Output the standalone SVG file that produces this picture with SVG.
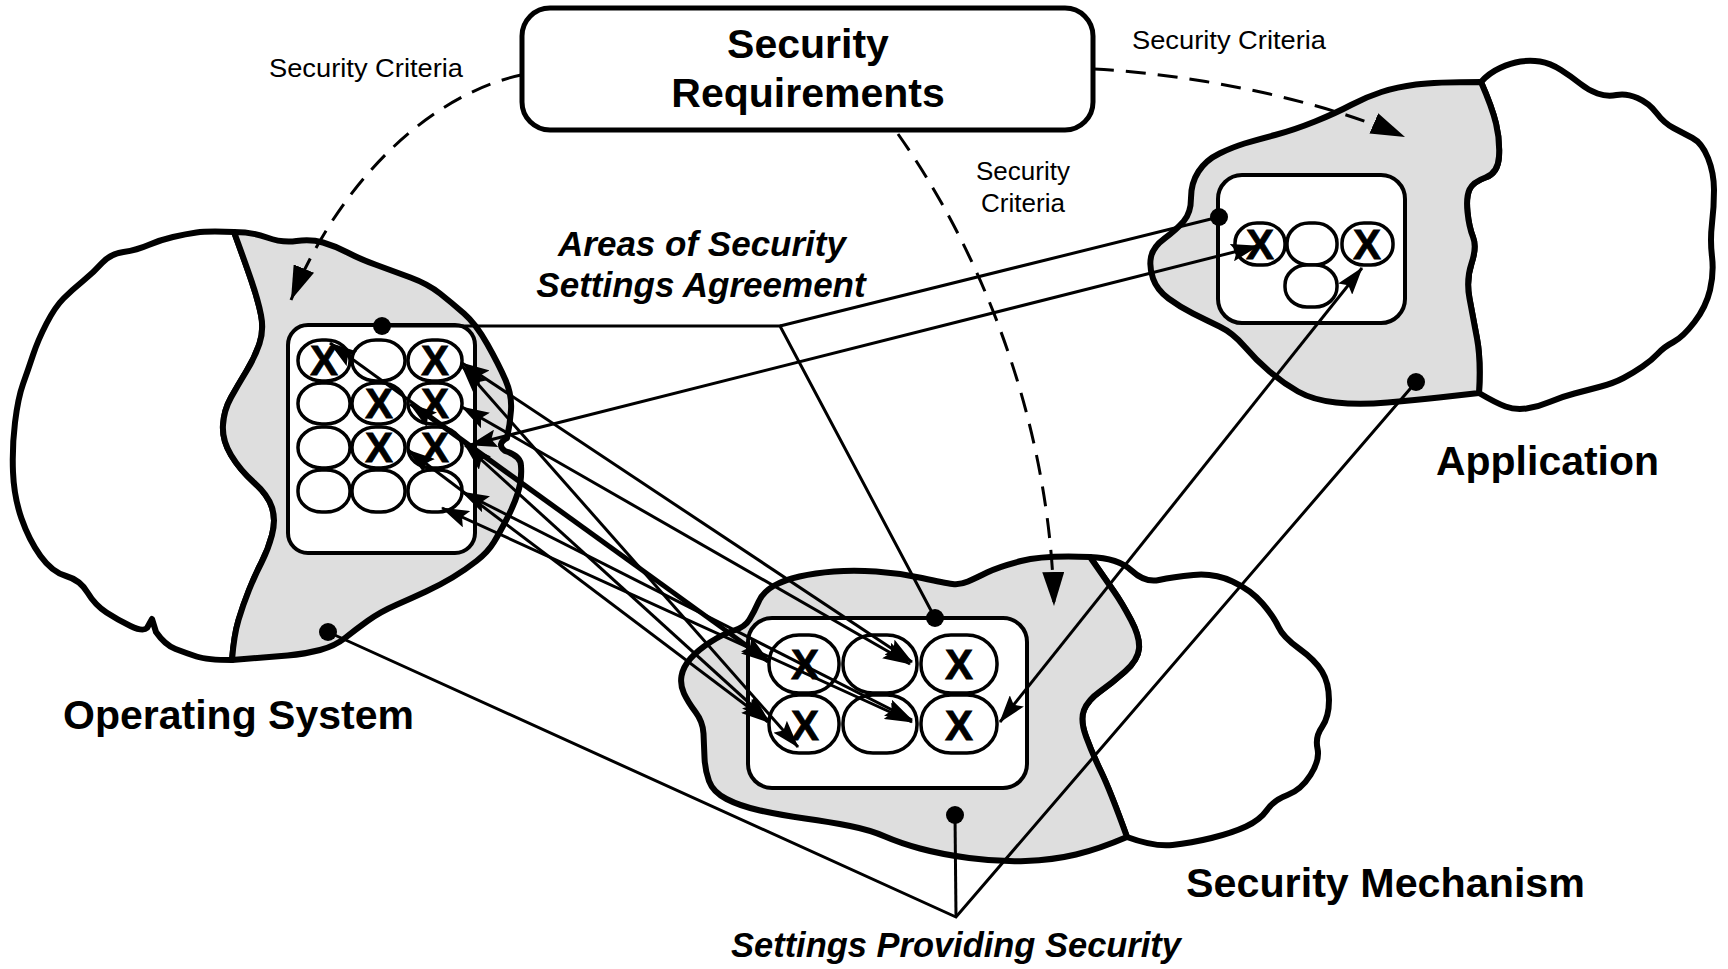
<svg xmlns="http://www.w3.org/2000/svg" width="1728" height="969" viewBox="0 0 1728 969">
<style>
.cl{stroke:#000;stroke-width:6;stroke-linejoin:round}
.gr{fill:#dedede}
.wh{fill:#fff}
.box{fill:#fff;stroke:#000;stroke-width:4}
.pill{fill:#fff;stroke:#000;stroke-width:3.5}
.x{font-family:"Liberation Sans",Arial,sans-serif;font-weight:bold;font-size:42px;text-anchor:middle;stroke:#000;stroke-width:0.8}
.ln{stroke:#000;stroke-width:3;fill:none}
.ar{stroke:#000;stroke-width:3;fill:none;marker-start:url(#ah);marker-end:url(#ah)}
.ds{stroke:#000;stroke-width:3;fill:none;stroke-dasharray:20 12;marker-end:url(#dh)}
.big{font-family:"Liberation Sans",Arial,sans-serif;font-weight:bold;font-size:41px}
.bi{font-family:"Liberation Sans",Arial,sans-serif;font-weight:bold;font-style:italic;font-size:35px}
.sm{font-family:"Liberation Sans",Arial,sans-serif;font-size:26px}
</style>
<defs>
<marker id="ah" viewBox="0 0 28 18" refX="27" refY="9" markerWidth="28" markerHeight="18" markerUnits="userSpaceOnUse" orient="auto-start-reverse"><path d="M0,0 L28,9 L0,18 L5,9 z" fill="#000"/></marker>
<marker id="dh" viewBox="0 0 34 22" refX="34" refY="11" markerWidth="34" markerHeight="22" markerUnits="userSpaceOnUse" orient="auto"><path d="M0,0 L34,11 L0,22 z" fill="#000"/></marker>
</defs>

<g id="os-cloud">
<path class="cl wh" d="M234 232 Q207 231 196.5 232.5 Q186 234 173 237 Q160 240 148.5 245 Q137 250 123.5 252 Q110 254 102 263 Q94 272 83 281 Q72 290 63.5 298.5 Q55 307 46.5 323.5 Q38 340 33 355 Q28 370 23 384 Q18 398 15 422.5 Q12 447 13 472 Q14 497 21.5 518.5 Q29 540 40.5 556 Q52 572 66 576 Q80 580 87.5 592.5 Q95 605 106.5 612.5 Q118 620 130.5 626 Q143 632 147 628 L152 619 L156 632 Q165 645 175.5 649 Q186 653 196.5 656.5 Q207 660 232 660 Q234 635 238.5 620 Q243 605 249 590 Q255 575 261.5 562.5 Q268 550 272 535 Q276 520 272 507.5 Q268 495 254 482.5 Q240 470 231 455 Q222 440 223 425 Q224 410 231 397.5 Q238 385 246.5 371 Q255 357 259.5 343.5 Q264 330 261 315 Q258 300 251.5 281 Q245 262 234 232 Z"/>
<path class="cl gr" d="M234 232 Q252 232 267 237.5 Q282 243 296.5 241 Q311 239 323 242.5 Q335 246 347.5 252.5 Q360 259 376.5 265 Q393 271 410.5 277.5 Q428 284 440 293.5 Q452 303 464 313.5 Q476 324 487.5 344.5 Q499 365 505.5 380 Q512 395 511 410 Q510 425 507 438 Q496 444 505 451 Q521 456 521 466 Q522 480 518 492.5 Q514 505 507 518.5 Q500 532 494 542 Q488 552 476.5 561 Q465 570 452.5 577.5 Q440 585 426 591.5 Q412 598 396 605 Q380 612 367.5 621 Q355 630 345 638 Q335 646 320 650 Q305 654 287.5 655.5 Q270 657 232 660 Q234 635 238.5 620 Q243 605 249 590 Q255 575 261.5 562.5 Q268 550 272 535 Q276 520 272 507.5 Q268 495 254 482.5 Q240 470 231 455 Q222 440 223 425 Q224 410 231 397.5 Q238 385 246.5 371 Q255 357 259.5 343.5 Q264 330 261 315 Q258 300 251.5 281 Q245 262 234 232 Z"/>
</g>

<g id="sm-cloud">
<path class="cl wh" d="M1090 557 Q1118 558 1131.5 570.5 Q1145 583 1159 580 Q1173 577 1193.5 575 Q1214 573 1232.5 581.5 Q1251 590 1262.5 603.5 Q1274 617 1278.5 627 Q1283 637 1299 648.5 Q1315 660 1322 671.5 Q1329 683 1329 700 Q1329 717 1322 727 Q1315 737 1317.5 748.5 Q1320 760 1310.5 775 Q1301 790 1287.5 795 Q1274 800 1267 810 Q1260 820 1246 826.5 Q1232 833 1211.5 838 Q1191 843 1172.5 845 Q1154 847 1127 837 Q1110 790 1101 771.5 Q1092 753 1086 736.5 Q1080 720 1084 710 Q1088 700 1100 691.5 Q1112 683 1125 671.5 Q1138 660 1139 648.5 Q1140 637 1131 620 Q1122 603 1114 591.5 Q1106 580 1090 557 Z"/>
<path class="cl gr" d="M1090 557 Q1044 555 1021 561 Q998 567 987 572.5 Q976 578 968 581.5 Q960 585 952.5 584 Q945 583 922 578 Q899 573 876 571.5 Q853 570 834 571.5 Q815 573 799.5 576.5 Q784 580 773.5 586 Q763 592 758.5 602 Q754 612 749.5 619.5 Q745 627 734 630.5 Q723 634 710.5 642 Q698 650 690.5 658.5 Q683 667 681.5 676 Q680 685 684 693.5 Q688 702 695.5 712 Q703 722 703.5 733.5 Q704 745 704.5 757.5 Q705 770 709 781 Q713 792 726.5 799 Q740 806 760 810.5 Q780 815 805 818.5 Q830 822 850 826 Q870 830 885 836.5 Q900 843 920 848.5 Q940 854 969 858 Q998 862 1025.5 861 Q1053 860 1076 854.5 Q1099 849 1127 837 Q1110 790 1101 771.5 Q1092 753 1086 736.5 Q1080 720 1084 710 Q1088 700 1100 691.5 Q1112 683 1125 671.5 Q1138 660 1139 648.5 Q1140 637 1131 620 Q1122 603 1114 591.5 Q1106 580 1090 557 Z"/>
</g>

<g id="app-cloud">
<path class="cl wh" d="M1481 82 Q1489 73 1500 68 Q1511 63 1520.5 61.5 Q1530 60 1540 61.5 Q1550 63 1561 70 Q1572 77 1580 83.5 Q1588 90 1597.5 93.5 Q1607 97 1616.5 95 Q1626 93 1637.5 98 Q1649 103 1656.5 113 Q1664 123 1673.5 128 Q1683 133 1692.5 138 Q1702 143 1708 158 Q1714 173 1714 190 Q1714 207 1712 223.5 Q1710 240 1712 256.5 Q1714 273 1710 290 Q1706 307 1694.5 322 Q1683 337 1673.5 342 Q1664 347 1658 353.5 Q1652 360 1642.5 366.5 Q1633 373 1623.5 378 Q1614 383 1601 386.5 Q1588 390 1574.5 393.5 Q1561 397 1549.5 402 Q1538 407 1526.5 408.5 Q1515 410 1505.5 406.5 Q1496 403 1479 393 Q1481 360 1477 338.5 Q1473 317 1469.5 298.5 Q1466 280 1471.5 263.5 Q1477 247 1473 237 Q1469 227 1467.5 212 Q1466 197 1469.5 189.5 Q1473 182 1485.5 177.5 Q1498 173 1499 156.5 Q1500 140 1496 123.5 Q1492 107 1481 82 Z"/>
<path class="cl gr" d="M1481 82 Q1435 82 1416 84.5 Q1397 87 1381.5 92 Q1366 97 1351 105 Q1336 113 1315 121.5 Q1294 130 1275 135 Q1256 140 1244.5 143.5 Q1233 147 1219.5 153.5 Q1206 160 1198.5 171.5 Q1191 183 1191 198 Q1191 213 1183.5 221.5 Q1176 230 1164.5 238.5 Q1153 247 1151 257 Q1149 267 1153 278.5 Q1157 290 1168.5 298.5 Q1180 307 1193 313.5 Q1206 320 1219.5 326.5 Q1233 333 1244.5 346.5 Q1256 360 1269.5 371.5 Q1283 383 1298 391.5 Q1313 400 1336 402.5 Q1359 405 1387.5 402.5 Q1416 400 1439 397.5 Q1462 395 1479 393 Q1481 360 1477 338.5 Q1473 317 1469.5 298.5 Q1466 280 1471.5 263.5 Q1477 247 1473 237 Q1469 227 1467.5 212 Q1466 197 1469.5 189.5 Q1473 182 1485.5 177.5 Q1498 173 1499 156.5 Q1500 140 1496 123.5 Q1492 107 1481 82 Z"/>
</g>

<g id="security-requirements">
<rect x="522" y="8" width="571" height="122" rx="28" fill="#fff" stroke="#000" stroke-width="5"/>
<text class="big" x="808" y="58" text-anchor="middle">Security</text>
<text class="big" x="808" y="107" text-anchor="middle">Requirements</text>
</g>

<g id="os-settings">
<rect class="box" x="288" y="325" width="187" height="228" rx="20"/>
<rect class="pill" x="298" y="340" width="52" height="41" rx="24" ry="20"/>
<rect class="pill" x="352" y="340" width="53" height="41" rx="24" ry="20"/>
<rect class="pill" x="408" y="340" width="54" height="41" rx="24" ry="20"/>
<rect class="pill" x="298" y="383" width="52" height="41" rx="24" ry="20"/>
<rect class="pill" x="352" y="383" width="53" height="41" rx="24" ry="20"/>
<rect class="pill" x="408" y="383" width="54" height="41" rx="24" ry="20"/>
<rect class="pill" x="298" y="427" width="52" height="41" rx="24" ry="20"/>
<rect class="pill" x="352" y="427" width="53" height="41" rx="24" ry="20"/>
<rect class="pill" x="408" y="427" width="54" height="41" rx="24" ry="20"/>
<rect class="pill" x="298" y="470" width="52" height="42" rx="24" ry="20"/>
<rect class="pill" x="352" y="470" width="53" height="42" rx="24" ry="20"/>
<rect class="pill" x="408" y="470" width="54" height="42" rx="24" ry="20"/>
<text class="x" x="324" y="375">X</text>
<text class="x" x="435" y="375">X</text>
<text class="x" x="379" y="418">X</text>
<text class="x" x="435" y="418">X</text>
<text class="x" x="379" y="462">X</text>
<text class="x" x="435" y="462">X</text>
</g>

<g id="sm-settings">
<rect class="box" x="748" y="618" width="279" height="170" rx="24"/>
<rect class="pill" x="769" y="635" width="70" height="58" rx="30" ry="28"/>
<rect class="pill" x="843" y="635" width="74" height="58" rx="30" ry="28"/>
<rect class="pill" x="921" y="635" width="76" height="58" rx="30" ry="28"/>
<rect class="pill" x="769" y="695" width="70" height="58" rx="30" ry="28"/>
<rect class="pill" x="843" y="695" width="74" height="58" rx="30" ry="28"/>
<rect class="pill" x="921" y="695" width="76" height="58" rx="30" ry="28"/>
<text class="x" x="805" y="679">X</text>
<text class="x" x="959" y="679">X</text>
<text class="x" x="805" y="740">X</text>
<text class="x" x="959" y="740">X</text>
</g>

<g id="app-settings">
<rect class="box" x="1218" y="175" width="187" height="148" rx="24"/>
<rect class="pill" x="1235" y="223" width="50" height="42" rx="22" ry="20"/>
<rect class="pill" x="1287" y="223" width="50" height="42" rx="22" ry="20"/>
<rect class="pill" x="1342" y="223" width="51" height="42" rx="22" ry="20"/>
<rect class="pill" x="1285" y="265" width="52" height="42" rx="22" ry="20"/>
<text class="x" x="1260" y="259">X</text>
<text class="x" x="1367" y="259">X</text>
</g>

<g id="connectors">
<path class="ds" d="M521 75 C430 95 340 180 291 300"/>
<path class="ds" d="M1094 69 C1200 75 1320 100 1405 137"/>
<path class="ds" d="M898 134 C980 250 1050 420 1054 606"/>
<polyline class="ln" points="382,326 780,326 935,618"/>
<line class="ln" x1="780" y1="326" x2="1219" y2="217"/>
<polyline class="ln" points="328,632 956,917 1416,382"/>
<line class="ln" x1="955" y1="815" x2="956" y2="917"/>
<line class="ar" x1="470" y1="445" x2="1258" y2="246"/>
<line class="ar" x1="1000" y1="722" x2="1362" y2="268"/>
<line class="ar" x1="462" y1="363" x2="912" y2="662"/>
<line class="ar" x1="462" y1="366" x2="798" y2="747"/>
<line class="ar" x1="330" y1="343" x2="768" y2="660"/>
<line class="ar" x1="410" y1="404" x2="768" y2="662"/>
<line class="ar" x1="462" y1="407" x2="910" y2="664"/>
<line class="ar" x1="408" y1="450" x2="768" y2="722"/>
<line class="ar" x1="465" y1="445" x2="768" y2="720"/>
<line class="ar" x1="462" y1="492" x2="912" y2="720"/>
<line class="ar" x1="442" y1="508" x2="912" y2="722"/>
</g>

<g id="dots">
<circle cx="382" cy="326" r="9"/>
<circle cx="935" cy="618" r="9"/>
<circle cx="1219" cy="217" r="9"/>
<circle cx="328" cy="632" r="9"/>
<circle cx="955" cy="815" r="9"/>
<circle cx="1416" cy="382" r="9"/>
</g>

<g id="labels">
<text class="sm" x="269" y="77" textLength="194" lengthAdjust="spacingAndGlyphs">Security Criteria</text>
<text class="sm" x="1132" y="49" textLength="194" lengthAdjust="spacingAndGlyphs">Security Criteria</text>
<text class="sm" x="1023" y="180" text-anchor="middle">Security</text>
<text class="sm" x="1023" y="212" text-anchor="middle">Criteria</text>
<text class="bi" x="702" y="256" text-anchor="middle">Areas of Security</text>
<text class="bi" x="701" y="297" text-anchor="middle">Settings Agreement</text>
<text class="big" x="63" y="729" textLength="351" lengthAdjust="spacingAndGlyphs">Operating System</text>
<text class="big" x="1436" y="475" textLength="223" lengthAdjust="spacingAndGlyphs">Application</text>
<text class="big" x="1186" y="897" textLength="399" lengthAdjust="spacingAndGlyphs">Security Mechanism</text>
<text class="bi" x="731" y="957" textLength="450" lengthAdjust="spacingAndGlyphs">Settings Providing Security</text>
</g>
</svg>
